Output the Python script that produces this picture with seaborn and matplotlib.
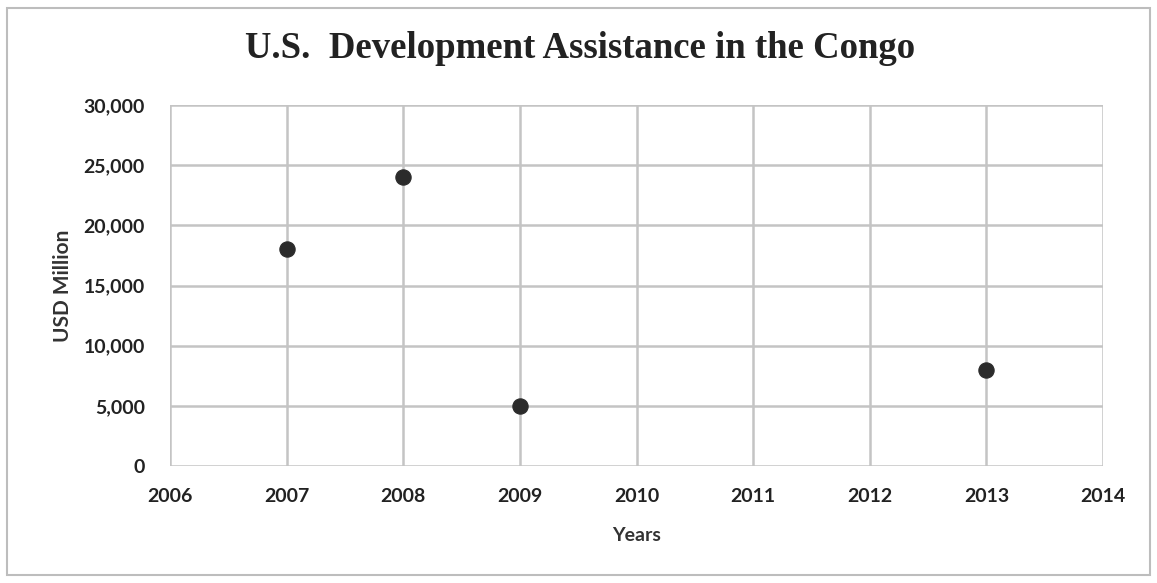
import matplotlib
matplotlib.use("Agg")
import matplotlib.pyplot as plt
import seaborn as sns
import pandas as pd
from matplotlib.patches import Rectangle

years = [2007, 2008, 2009, 2013]
usd_million = [18000, 24000, 5000, 8000]
x_ticks = [2006, 2007, 2008, 2009, 2010, 2011, 2012, 2013, 2014]
y_ticks = [0, 5000, 10000, 15000, 20000, 25000, 30000]
title = "U.S.  Development Assistance in the Congo"

df = pd.DataFrame({"Years": years, "USD Million": usd_million})

sns.set_theme(style="white")
plt.rcParams['font.family'] = ['Lato', 'DejaVu Sans']

fig = plt.figure(figsize=(11.57, 5.83), dpi=100)
ax = fig.add_axes([170/1157, (583-466)/583, (1103-170)/1157, (466-105)/583])

sns.scatterplot(data=df, x="Years", y="USD Million", ax=ax, s=120,
                color="#2b2b2b", edgecolor="#2b2b2b", zorder=3)

ax.set_xlim(2006, 2014)
ax.set_ylim(0, 30000)
ax.set_xticks(x_ticks)
ax.set_yticks(y_ticks)
ax.set_xticklabels([str(t) for t in x_ticks], fontsize=14, fontweight="bold", color="#222222")
ax.set_yticklabels([f"{t:,}" for t in y_ticks], fontsize=14, fontweight="bold", color="#222222")
ax.tick_params(axis="both", length=0)
ax.tick_params(axis="x", pad=16)
ax.tick_params(axis="y", pad=18)
ax.grid(True, color="#c4c4c4", linewidth=1.8)
ax.set_axisbelow(True)
for side, sp in ax.spines.items():
    sp.set_visible(False)

ax.set_xlabel("Years", fontsize=14, fontweight="bold", color="#333333", labelpad=16)
ax.set_ylabel("USD Million", fontsize=15, fontweight="bold", color="#333333", labelpad=8)

fig.text(580/1157, 1 - 49/583, title, ha="center", va="center",
         fontsize=26.5, fontweight="bold", family="Liberation Serif", color="#222222")

fig.patches.append(Rectangle((7/1157, 8/583), (1150-7)/1157, (575-8)/583,
                             transform=fig.transFigure, fill=False,
                             edgecolor="#bdbdbd", linewidth=1.5))

fig.savefig("out.png", dpi=100)
